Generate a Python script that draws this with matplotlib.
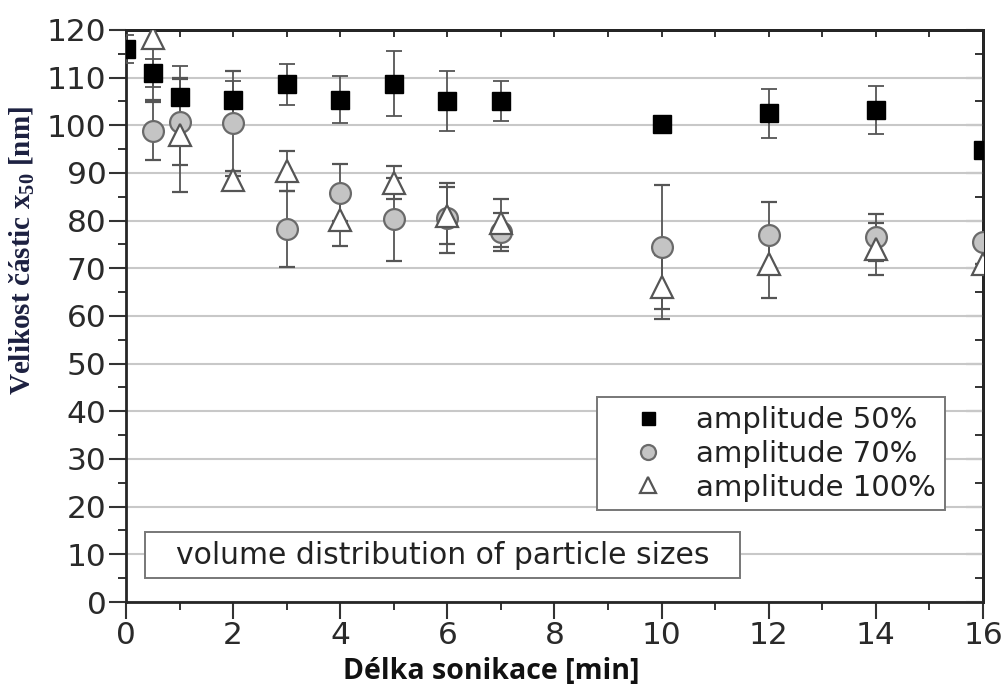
import matplotlib
matplotlib.use("Agg")
import matplotlib.pyplot as plt
from matplotlib.ticker import MultipleLocator
from matplotlib.patches import Rectangle

plt.rcParams["font.family"] = ["DejaVu Sans"]
plt.rcParams["mathtext.fontset"] = "custom"
plt.rcParams["mathtext.rm"] = "Liberation Serif"
plt.rcParams["mathtext.bf"] = "Liberation Serif:bold"
plt.rcParams["mathtext.it"] = "Liberation Serif:italic"

# Data (x: sonication time [min], y: particle size x50 [nm])
x50 = [0, 0.5, 1, 2, 3, 4, 5, 6, 7, 10, 12, 14, 16]
y50 = [116, 111, 105.9, 105.4, 108.6, 105.4, 108.7, 105.1, 105.1, 100.3, 102.5, 103.2, 94.8]
e50 = [3, 3, 6.5, 4, 4.3, 5, 6.8, 6.3, 4.2, 0, 5.1, 5, 0]

x70 = [0.5, 1, 2, 3, 4, 5, 6, 7, 10, 12, 14, 16]
y70 = [98.8, 100.7, 100.4, 78.2, 85.9, 80.3, 80.6, 77.7, 74.5, 77, 76.5, 75.5]
e70 = [6, 9, 11, 8, 6, 8.7, 7.3, 4, 13, 7, 5, 0]

x100 = [0.5, 1, 2, 3, 4, 5, 6, 7, 10, 12, 14, 16]
y100 = [118.3, 98, 88.5, 90.5, 80.1, 88, 81, 79.5, 66.1, 71, 74, 71]
e100 = [13, 12, 2, 4.2, 5.4, 3.5, 6, 5, 6.8, 7.2, 5.5, 0]

labels = ["amplitude 50%", "amplitude 70%", "amplitude 100%"]
note = "volume distribution of particle sizes"

fig = plt.figure(figsize=(10.06, 6.88), dpi=100)
ax = fig.add_axes([0.1252, 0.125, 0.8519, 0.8314])

ax.set_xlim(0, 16)
ax.set_ylim(0, 120)
ax.yaxis.grid(True, color="#c8c8c8", lw=1.5)
ax.set_axisbelow(True)

ecol = "#555555"
kw = dict(ecolor=ecol, elinewidth=1.3, capsize=6, capthick=1.3, zorder=3)
ax.errorbar(x70, y70, yerr=e70, fmt="o", ms=15, mfc="#c4c4c4", mec="#6a6a6a", mew=1.6,
            label=labels[1], **kw)
ax.errorbar(x100, y100, yerr=e100, fmt="^", ms=16, mfc="white", mec="#555555", mew=1.6,
            label=labels[2], **kw)
ax.errorbar(x50, y50, yerr=e50, fmt="s", ms=13, mfc="black", mec="black",
            label=labels[0], **kw)

ax.xaxis.set_major_locator(MultipleLocator(2))
ax.xaxis.set_minor_locator(MultipleLocator(1))
ax.yaxis.set_major_locator(MultipleLocator(10))
ax.yaxis.set_minor_locator(MultipleLocator(5))
ax.tick_params(axis="both", which="major", direction="out", length=12, width=1.5,
               labelsize=22.5, labelcolor="#2a2a2a", color="#333333", pad=2)
ax.tick_params(axis="both", which="minor", direction="out", length=6, width=1.4, color="#333333")
for s in ax.spines.values():
    s.set_linewidth(2)
    s.set_color("#262626")

# inward ticks on top and right
topax = ax.secondary_xaxis("top")
topax.xaxis.set_major_locator(MultipleLocator(1))
topax.tick_params(direction="in", length=5, width=1.4, color="#333333", labeltop=False)
topax.spines["top"].set_linewidth(2)
rax = ax.secondary_yaxis("right")
rax.yaxis.set_major_locator(MultipleLocator(10))
rax.yaxis.set_minor_locator(MultipleLocator(5))
rax.tick_params(which="major", direction="in", length=12, width=1.5, color="#333333", labelright=False)
rax.tick_params(which="minor", direction="in", length=6, width=1.4, color="#333333")
rax.spines["right"].set_linewidth(2)

ax.set_xlabel("Délka sonikace [min]", fontsize=20.5, fontweight="bold", family="Open Sans",
              color="#111111", va="center")
ax.xaxis.set_label_coords(0.426, -0.122)
ax.set_ylabel(r"Velikost částic x$_{\mathbf{50}}$ [nm]", fontsize=21, fontweight="bold",
              family="Liberation Serif", color="#1c2040", va="center")
ax.yaxis.set_label_coords(-0.121, 0.615)

h, l = ax.get_legend_handles_labels()
order = [2, 0, 1]
leg = ax.legend([h[i][0] for i in order], [l[i] for i in order],
                loc="upper left", bbox_to_anchor=(0.5496, 0.358),
                frameon=True, fancybox=False, edgecolor="#777777", framealpha=1,
                handletextpad=0.2, borderpad=0.3, labelspacing=0.2, markerscale=0.72,
                handlelength=2.9, borderaxespad=0, prop={"family": "DejaVu Sans", "size": 21})
leg.get_frame().set_linewidth(1.4)
for t in leg.get_texts():
    t.set_color("#222222")

ax.add_patch(Rectangle((0.0222, 0.042), 0.6943, 0.0804, transform=ax.transAxes,
                       fc="white", ec="#777777", lw=1.4, zorder=6))
ax.text(0.37, 0.082, note, transform=ax.transAxes,
        fontsize=21.5, family="DejaVu Sans", color="#222222", va="center", ha="center", zorder=7)

fig.savefig("out.png", dpi=100)
